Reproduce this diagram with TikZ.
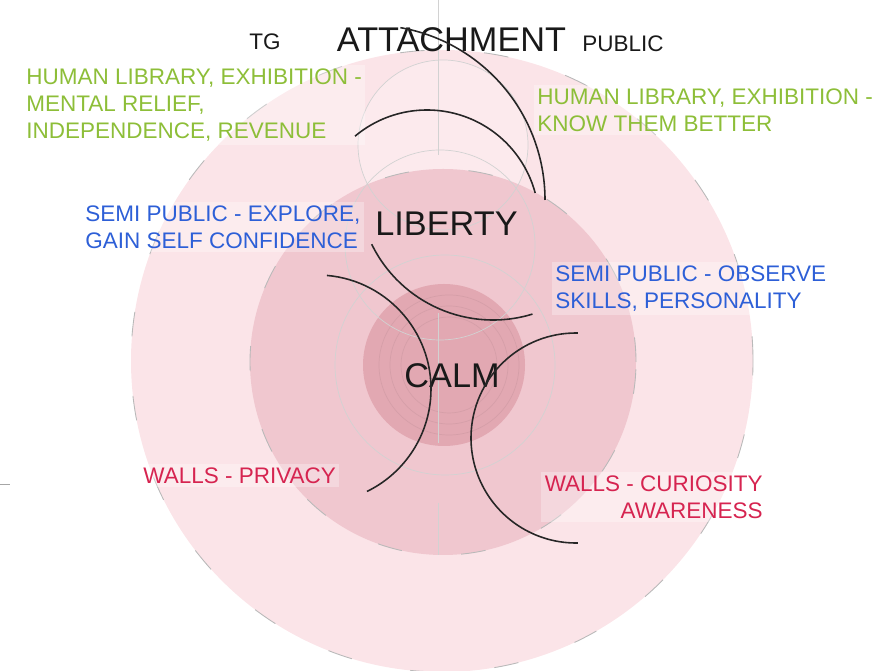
\documentclass[tikz,border=0pt]{standalone}
\usepackage{fontspec}
\setmainfont{Liberation Sans}
\definecolor{ringout}{RGB}{251,228,232}
\definecolor{ringmid}{RGB}{240,199,207}
\definecolor{ringin}{RGB}{226,168,178}
\definecolor{notegreen}{RGB}{141,190,56}
\definecolor{noteblue}{RGB}{45,95,215}
\definecolor{notered}{RGB}{214,36,80}

\begin{document}
\begin{tikzpicture}[x=1cm,y=1cm,
    keyword/.style={font=\fontsize{19.5}{23}\selectfont,text=black!90,inner sep=0pt},
    tag/.style={font=\fontsize{12.8}{15}\selectfont,text=black!90,inner sep=0pt},
    note/.style={font=\fontsize{12.8}{15.4}\selectfont,inner sep=2pt,
        fill=white,fill opacity=0.3,text opacity=1},
    arcline/.style={line width=0.9pt,black!85},
    faint/.style={gray!35,line width=0.4pt},
    rim/.style={gray!55,line width=0.5pt,dash pattern=on 14pt off 34pt}]
    \useasboundingbox (0,0) rectangle (17.56,13.40);

    % the three zones
    \fill[ringout] (8.84,6.18) circle (6.22);
    \draw[rim] (8.84,6.18) circle (6.22);
    \fill[white,opacity=0.25] (8.86,10.50) circle (1.70);
    \fill[ringmid] (8.86,6.16) circle (3.86);
    \draw[rim] (8.86,6.16) circle (3.86);
    \fill[ringin] (8.88,6.10) circle (1.62);
    \foreach \r in {1.40,1.18,0.96}{
        \draw[ringin!70!black,opacity=0.18,line width=0.4pt] (8.98,6.10) circle (\r);
    }

    % faint guide lines
    \draw[faint] (8.86,10.50) circle (1.70);
    \draw[faint] (8.80,8.50) circle (1.90);
    \draw[faint] (8.90,6.10) circle (2.20);
    \draw[faint] (8.76,13.40) -- (8.76,10.30);
    \draw[faint] (8.76,7.14) -- (8.76,4.54);
    \draw[faint] (8.76,3.34) -- (8.76,2.30);
    \draw[gray!70] (0,3.72) -- (0.20,3.72);

    % labels
    \node[tag,anchor=north] (tg) at (5.30,12.74) {TG};
    \node[keyword,anchor=north] (attach) at (9.03,12.86) {ATTACHMENT};
    \node[tag,anchor=north] (public) at (12.46,12.70) {PUBLIC};
    \node[keyword,anchor=north] (liberty) at (8.93,9.16) {LIBERTY};
    \node[keyword,anchor=north] (calm) at (9.04,6.14) {CALM};

    \node[note,text=notegreen,align=left,anchor=north west] (libL) at (0.45,12.11)
        {HUMAN LIBRARY, EXHIBITION -\\MENTAL RELIEF,\\INDEPENDENCE, REVENUE};
    \node[note,text=notegreen,align=left,anchor=north west] (libR) at (10.67,11.71)
        {HUMAN LIBRARY, EXHIBITION -\\KNOW THEM BETTER};
    \node[note,text=noteblue,align=left,anchor=north west] (semiL) at (1.63,9.37)
        {SEMI PUBLIC - EXPLORE,\\GAIN SELF CONFIDENCE};
    \node[note,text=noteblue,align=left,anchor=north west] (semiR) at (11.03,8.17)
        {SEMI PUBLIC - OBSERVE\\SKILLS, PERSONALITY};
    \node[note,text=notered,align=left,anchor=north west] (wallL) at (2.79,4.13)
        {WALLS - PRIVACY};
    \node[note,text=notered,align=right,anchor=north east] (wallR) at (15.33,3.97)
        {WALLS - CURIOSITY\\AWARENESS};

    % black arcs
    \draw[arcline] (7.40,9.40) ++(80:3.50) arc[start angle=80,end angle=0,radius=3.50];
    \draw[arcline] (8.54,8.96) ++(130:2.24) arc[start angle=130,end angle=15,radius=2.24];
    \draw[arcline] (9.86,9.70) ++(206:2.70) arc[start angle=206,end angle=287,radius=2.70];
    \draw[arcline] (6.34,5.62) ++(85:2.28) arc[start angle=85,end angle=-64,radius=2.28];
    \draw[arcline] (11.52,4.64) ++(89:2.10) arc[start angle=89,end angle=271,radius=2.10];
\end{tikzpicture}
\end{document}
